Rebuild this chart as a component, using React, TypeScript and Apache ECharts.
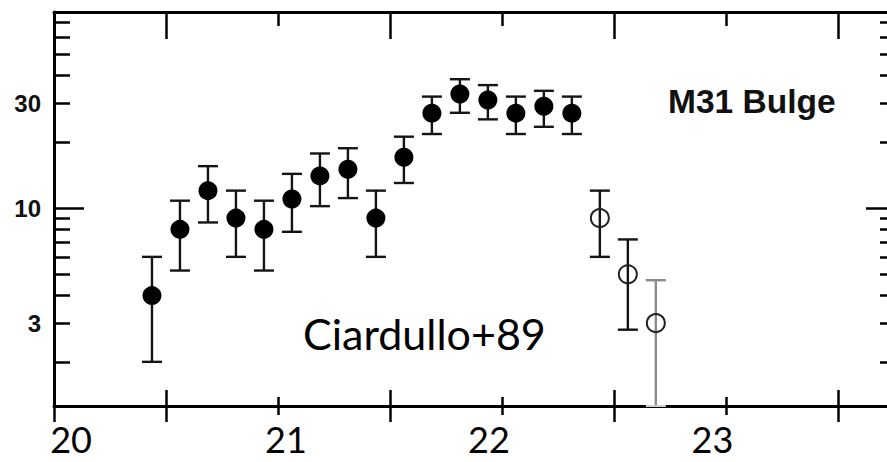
import React, { useEffect, useRef } from "react";
import * as echarts from "echarts";

// Ciardullo+89, M31 bulge PN luminosity function (log y)
const magnitudes = [
  20.4375, 20.5625, 20.6875, 20.8125, 20.9375, 21.0625, 21.1875, 21.3125,
  21.4375, 21.5625, 21.6875, 21.8125, 21.9375, 22.0625, 22.1875, 22.3125,
  22.4375, 22.5625, 22.6875,
];
const counts = [
  4.0, 8.0, 12.0, 9.0, 8.0, 11.0, 14.0, 15.0, 9.0, 17.0, 27.0, 33.0, 31.0,
  27.0, 29.0, 27.0, 9.0, 5.0, 3.0,
];
const upperErr = [
  6.0, 10.8, 15.5, 12.0, 10.8, 14.3, 17.7, 18.7, 12.0, 21.1, 32.1, 38.5, 36.2,
  32.1, 34.1, 32.1, 12.0, 7.2, 4.7,
];
const lowerErr = [
  2.0, 5.2, 8.6, 6.0, 5.2, 7.8, 10.2, 11.1, 6.0, 13.0, 21.7, 27.1, 25.3, 21.7,
  23.4, 21.7, 6.0, 2.8, 1.0,
];
// true = open circle (incomplete bin)
const incomplete = [
  false, false, false, false, false, false, false, false, false, false, false,
  false, false, false, false, false, true, true, true,
];

const xRange = [20, 23.76];
const yRange = [1.26, 77.8];
// hand-placed magnitude labels (their text is the rounded value)
const xLabelPositions = [20.076, 21.036, 21.942, 22.94];
const xLongTicks = [20, 20.5, 21.5, 22.5, 23.5];
const xTopLongTicks = [20.5, 21.5, 22.5, 23.5];
const xShortTicks = [21, 22, 23];
const yMinorTicks = [2, 3, 4, 5, 6, 7, 8, 9, 20, 30, 40, 50, 60, 70];
const yMajorTicks = [10];
const yLabelValues = [3, 10, 30];

const lg = (v: number) => Math.log10(v);

export default function App() {
  const ref = useRef<HTMLDivElement>(null);

  useEffect(() => {
    if (!ref.current) return;
    const chart = echarts.init(ref.current, undefined, { renderer: "svg" });
    const yMin = lg(yRange[0]);
    const yMax = lg(yRange[1]);
    const black = "#000";

    const baseX = (extra: any) => ({
      type: "value",
      min: xRange[0],
      max: xRange[1],
      splitLine: { show: false },
      axisLine: { show: false, lineStyle: { color: black, width: 3 } },
      axisLabel: { show: false },
      ...extra,
    });
    const baseY = (extra: any) => ({
      type: "value",
      min: yMin,
      max: yMax,
      splitLine: { show: false },
      axisLine: { show: false, lineStyle: { color: black, width: 3 } },
      axisLabel: { show: false },
      ...extra,
    });
    const tick = (values: number[], length: number, inside: boolean) => ({
      show: true,
      customValues: values,
      length,
      inside,
      lineStyle: { color: black, width: 2.5 },
    });

    const errData = magnitudes.map((m, i) => [m, lg(lowerErr[i]), lg(upperErr[i])]);
    const filled = magnitudes
      .map((m, i) => [m, lg(counts[i])])
      .filter((_, i) => !incomplete[i]);
    const open = magnitudes
      .map((m, i) => [m, lg(counts[i])])
      .filter((_, i) => incomplete[i]);

    chart.setOption({
      animation: false,
      backgroundColor: "#fff",
      grid: { left: 54, right: 9, top: 12, bottom: 56, containLabel: false },
      xAxis: [
        baseX({
          position: "bottom",
          axisLine: { show: true, lineStyle: { color: black, width: 3 } },
          axisTick: tick(xLongTicks, 16, false),
          axisLabel: {
            show: true,
            customValues: xLabelPositions,
            margin: 18,
            lineHeight: 30,
            fontFamily: "Lato",
            fontSize: 36,
            color: black,
            formatter: (v: number) => String(Math.round(v)),
          },
        }),
        baseX({ position: "bottom", axisTick: tick(xTopLongTicks, 16, true) }),
        baseX({ position: "bottom", axisTick: tick(xShortTicks, 9, false) }),
        baseX({ position: "bottom", axisTick: tick(xShortTicks, 9, true) }),
        baseX({
          position: "top",
          axisLine: { show: true, lineStyle: { color: black, width: 3 } },
          axisTick: tick(xTopLongTicks, 27, true),
        }),
        baseX({ position: "top", axisTick: tick(xShortTicks, 14, true) }),
      ],
      yAxis: [
        baseY({
          position: "left",
          axisLine: { show: true, lineStyle: { color: black, width: 3 } },
          axisTick: tick(yMinorTicks.map(lg), 16, true),
          axisLabel: {
            show: true,
            customValues: yLabelValues.map(lg),
            margin: 13,
            fontFamily: "Liberation Sans",
            fontWeight: "bold",
            fontSize: 24,
            color: "#111",
            formatter: (v: number) => String(Math.round(Math.pow(10, v))),
          },
        }),
        baseY({ position: "left", axisTick: tick(yMajorTicks.map(lg), 30, true) }),
        baseY({
          position: "right",
          axisLine: { show: false },
          axisTick: tick(yMinorTicks.map(lg), 16, true),
        }),
        baseY({ position: "right", axisTick: tick(yMajorTicks.map(lg), 30, true) }),
      ],
      series: [
        {
          type: "custom",
          name: "errors",
          xAxisIndex: 0,
          yAxisIndex: 0,
          data: errData,
          encode: { x: 0, y: [1, 2] },
          renderItem: (params: any, api: any) => {
            const x = api.value(0);
            const lo = api.value(1);
            const hi = api.value(2);
            const top = api.coord([x, hi]);
            const bot = api.coord([x, Math.max(lo, yMin)]);
            const clipped = lo < yMin;
            const stroke = clipped ? "#8a8a8a" : "#141414";
            const half = 10;
            const st = { stroke, lineWidth: 2.4 };
            const children: any[] = [
              { type: "line", shape: { x1: top[0], y1: top[1], x2: bot[0], y2: bot[1] }, style: st },
              { type: "line", shape: { x1: top[0] - half, y1: top[1], x2: top[0] + half, y2: top[1] }, style: st },
              {
                type: "line",
                shape: { x1: bot[0] - half, y1: bot[1], x2: bot[0] + half, y2: bot[1] },
                style: clipped ? { stroke: "#cfcfcf", lineWidth: 2 } : st,
              },
            ];
            return { type: "group", children };
          },
          z: 2,
        },
        {
          type: "scatter",
          name: "filled",
          xAxisIndex: 0,
          yAxisIndex: 0,
          data: filled,
          symbol: "circle",
          symbolSize: 19,
          itemStyle: { color: "#000", opacity: 1 },
          z: 3,
        },
        {
          type: "scatter",
          name: "open",
          xAxisIndex: 0,
          yAxisIndex: 0,
          data: open,
          symbol: "circle",
          symbolSize: 18,
          itemStyle: {
            color: "rgba(255,255,255,0)",
            borderColor: "#222",
            borderWidth: 2,
            opacity: 1,
          },
          z: 3,
        },
      ],
      graphic: [
        {
          type: "text",
          left: 668,
          top: 84,
          style: {
            text: "M31 Bulge",
            fontFamily: "Liberation Sans",
            fontWeight: "bold",
            fontSize: 33.5,
            fill: "#111",
          },
        },
        {
          type: "text",
          left: 303,
          top: 312,
          style: {
            text: "Ciardullo+89",
            fontFamily: "Lato",
            fontSize: 43,
            fill: "#000",
          },
        },
      ],
    });
    return () => chart.dispose();
  }, []);

  return (
    <div
      style={{
        position: "absolute",
        left: 0,
        top: 0,
        width: 887,
        height: 462,
        overflow: "hidden",
        background: "#fff",
      }}
    >
      <div ref={ref} style={{ width: 905, height: 462 }} />
    </div>
  );
}
